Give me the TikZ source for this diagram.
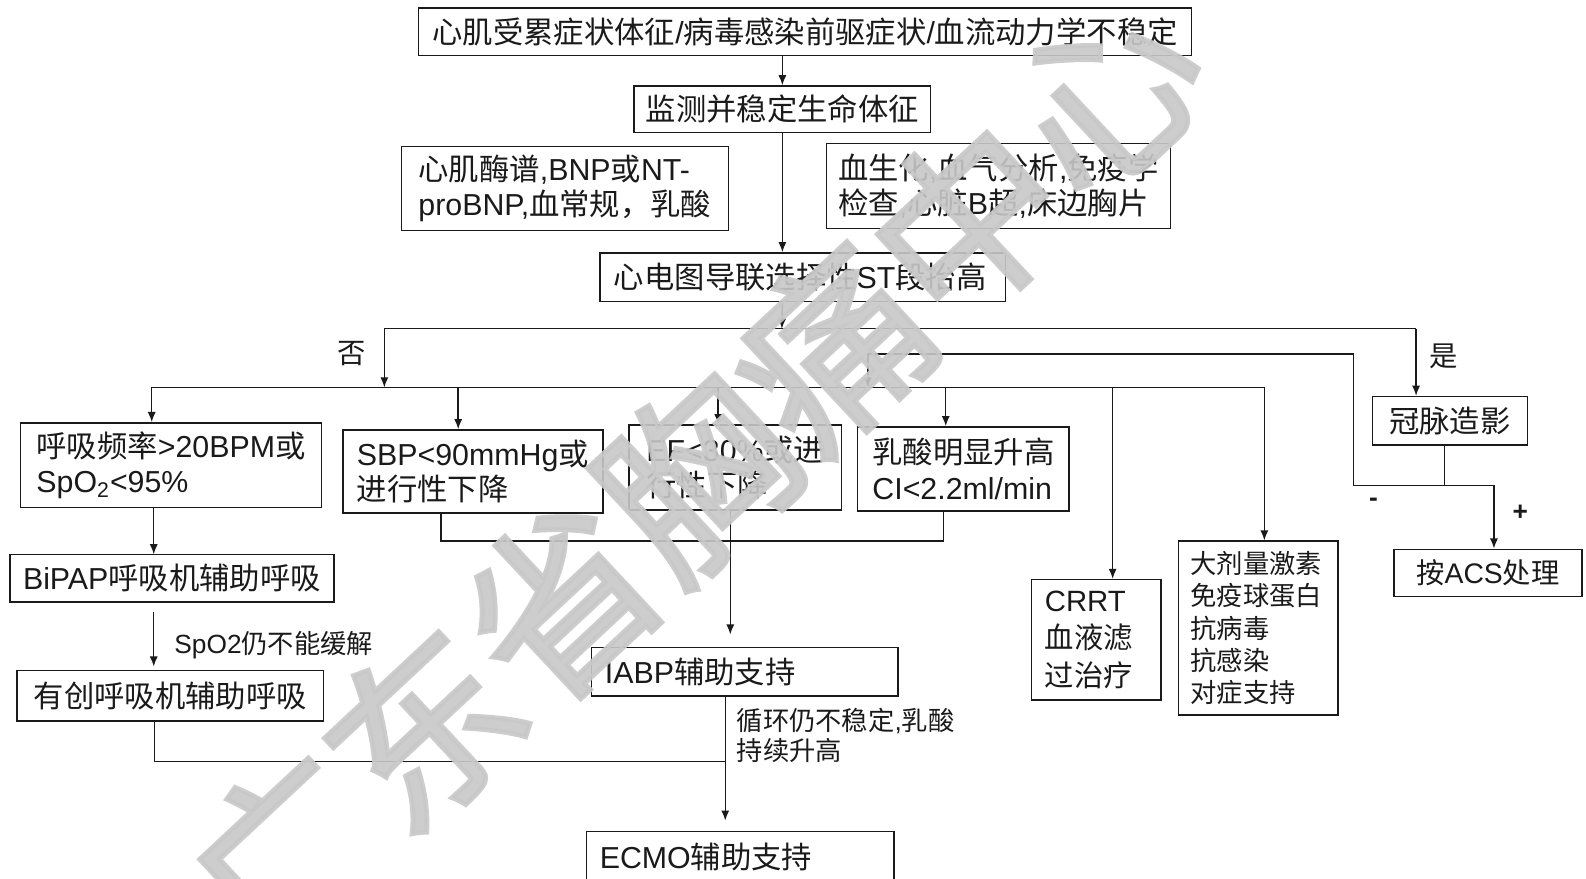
\documentclass[tikz,border=0pt]{standalone}
\usepackage{fontspec}
\setmainfont{Liberation Sans}
\newfontfamily\cjkfont{Noto Sans CJK SC}
\newfontfamily\wmfont{Noto Sans CJK SC}[FakeBold=2.5]
\usetikzlibrary{arrows.meta}
\XeTeXinterchartokenstate=1
\newXeTeXintercharclass\cjkcls
\newcount\cjkc
\cjkc="3000
\loop\XeTeXcharclass\cjkc=\cjkcls \ifnum\cjkc<"303F \advance\cjkc by 1 \repeat
\cjkc="4E00
\loop\XeTeXcharclass\cjkc=\cjkcls \ifnum\cjkc<"9FFF \advance\cjkc by 1 \repeat
\cjkc="FF00
\loop\XeTeXcharclass\cjkc=\cjkcls \ifnum\cjkc<"FFEF \advance\cjkc by 1 \repeat
\XeTeXinterchartoks 0 \cjkcls={\cjkfont}
\XeTeXinterchartoks 4095 \cjkcls={\cjkfont}
\XeTeXinterchartoks \cjkcls 0={\rmfamily}
\XeTeXinterchartoks \cjkcls 4095={\rmfamily}
\definecolor{ink}{HTML}{1A1A1A}
\definecolor{wm}{HTML}{C8C8C8}
\tikzset{
  box/.style={draw=ink, line width=0.7pt, rectangle, inner sep=0pt, align=left,
    text=ink, font=\fontsize{15pt}{17.5pt}\selectfont},
  conn/.style={draw=ink, line width=0.7pt},
  arr/.style={conn, -{Latex[length=5pt,width=4pt]}},
  lbl/.style={text=ink, inner sep=0pt, align=left, font=\fontsize{13pt}{15pt}\selectfont},
}
\begin{document}
\begin{tikzpicture}[x=0.5pt, y=-0.5pt]
\useasboundingbox[fill=white] (0,0) rectangle (1568,869);
% boxes
\node[box, minimum width=382pt, minimum height=23.5pt] (A) at (796,31.5)
  {心肌受累症状体征/病毒感染前驱症状/血流动力学不稳定};
\node[box, minimum width=146.5pt, minimum height=23pt] (B) at (773.5,108)
  {监测并稳定生命体征};
\node[box, minimum width=161.5pt, minimum height=41.5pt] (C) at (558.5,186.5)
  {心肌酶谱,BNP或NT-\\proBNP,血常规，乳酸};
\node[box, minimum width=170pt, minimum height=42pt] (D) at (987,184)
  {血生化,血气分析,免疫学\\检查,心脏B超,床边胸片};
\node[box, minimum width=200.5pt, minimum height=24pt, text width=186.5pt, inner xsep=7pt] (E) at (793.5,274)
  {心电图导联选择性ST段抬高};
\node[box, minimum width=149pt, minimum height=42pt] (F) at (169,460)
  {呼吸频率>20BPM或\\SpO\textsubscript{2}<95\%};
\node[box, minimum width=128.5pt, minimum height=41pt] (G) at (467.5,466)
  {SBP<90mmHg或\\进行性下降};
\node[box, minimum width=105pt, minimum height=42pt] (H) at (727,462)
  {EF<30\%或进\\行性下降};
\node[box, minimum width=104.5pt, minimum height=41.5pt] (I) at (952.5,463.5)
  {乳酸明显升高\\CI<2.2ml/min};
\node[box, minimum width=76.5pt, minimum height=24pt] (J) at (1433.5,416)
  {冠脉造影};
\node[box, minimum width=93pt, minimum height=23.5pt, font=\fontsize{14pt}{16pt}\selectfont] (K) at (1471,566.5)
  {按ACS处理};
\node[box, minimum width=64pt, minimum height=59.5pt, text width=51pt, inner xsep=6.5pt,
  font=\fontsize{14.5pt}{18.5pt}\selectfont] (L) at (1084,632.5)
  {CRRT\\血液滤\\过治疗};
\node[box, minimum width=79pt, minimum height=86pt, text width=67pt, inner xsep=6pt,
  font=\fontsize{13pt}{16pt}\selectfont] (M) at (1244,621)
  {大剂量激素\\免疫球蛋白\\抗病毒\\抗感染\\对症支持};
\node[box, minimum width=160pt, minimum height=23.5pt] (N) at (170,571.5)
  {BiPAP呼吸机辅助呼吸};
\node[box, minimum width=151.5pt, minimum height=25pt] (O) at (168.5,688)
  {有创呼吸机辅助呼吸};
\node[box, minimum width=151.5pt, minimum height=24pt, text width=138.5pt, inner xsep=6.5pt] (P) at (736.5,664)
  {IABP辅助支持};
\node[box, minimum width=152pt, minimum height=25pt, text width=139pt, inner xsep=6.5pt] (Q) at (732,847)
  {ECMO辅助支持};
% labels
\node[lbl, font=\fontsize{14pt}{16pt}\selectfont] (no) at (348,350) {否};
\node[lbl, font=\fontsize{14pt}{16pt}\selectfont] (yes) at (1427,352) {是};
\node[lbl, anchor=west] (spo) at (172,638) {SpO2仍不能缓解};
\node[lbl, anchor=west] (circ) at (728,727) {循环仍不稳定,乳酸\\持续升高};
\node[lbl, font=\bfseries\fontsize{13pt}{15pt}\selectfont] (minus) at (1358,497) {-};
\node[lbl, font=\bfseries\fontsize{13pt}{15pt}\selectfont] (plus) at (1503,507) {+};
% junction coordinates
\coordinate (e1) at (773,325);
\coordinate (n1) at (380,325);
\coordinate (y1) at (1400,325);
\coordinate (n2) at (380,383);
\coordinate (s1) at (150,383);
\coordinate (s2) at (1250,383);
\coordinate (sG) at (453,383);
\coordinate (sH) at (710,383);
\coordinate (sI) at (935,383);
\coordinate (sL) at (1100,383);
\coordinate (jx) at (1428,480);
\coordinate (m1) at (1338,480);
\coordinate (m2) at (1338,350);
\coordinate (m3) at (858,350);
\coordinate (m4) at (858,383);
\coordinate (p1) at (1477,480);
\coordinate (g1) at (436,535);
\coordinate (i1) at (933,535);
\coordinate (hx) at (722,535);
\coordinate (o1) at (153,753);
\coordinate (o2) at (717,753);
% connectors
\draw[arr] (B.north |- A.south) -- (B.north);
\draw[arr] (B.south) -- (B.south |- E.north);
\draw[arr] (B.south |- E.south) -- (e1);
\draw[conn] (n1) -- (y1);
\draw[arr] (n1) -- (n2);
\draw[arr] (y1) -- (y1 |- J.north);
\draw[conn] (s1) -- (s2);
\draw[arr] (s1) -- (s1 |- F.north);
\draw[arr] (sG) -- (sG |- G.north);
\draw[arr] (sH) -- (sH |- H.north);
\draw[arr] (sI) -- (sI |- I.north);
\draw[arr] (sL) -- (sL |- L.north);
\draw[arr] (s2) -- (s2 |- M.north);
\draw[conn] (jx |- J.south) -- (jx);
\draw[arr] (jx) -- (m1) -- (m2) -- (m3) -- (m4);
\draw[arr] (jx) -- (p1) -- (p1 |- K.north);
\draw[arr] (152,502) -- (152,548);
\draw[arr, shorten >=2pt] (152,605) -- (152,663);
\draw[conn] (o1 |- O.south) -- (o1) -- (o2);
\draw[conn] (g1 |- G.south) -- (g1) -- (i1) -- (i1 |- I.south);
\draw[arr, shorten >=6pt] (hx |- H.south) -- (hx |- P.north);
\draw[arr, shorten >=5pt] (o2 |- P.south) -- (o2 |- Q.north);
% watermark
\node[text=wm, opacity=0.9, rotate=43, inner sep=0pt,
  font={\XeTeXinterchartokenstate=0 \wmfont\fontsize{92pt}{92pt}\selectfont}] (wmk) at (688,470) {广东省胸痛中心};
\end{tikzpicture}
\end{document}
